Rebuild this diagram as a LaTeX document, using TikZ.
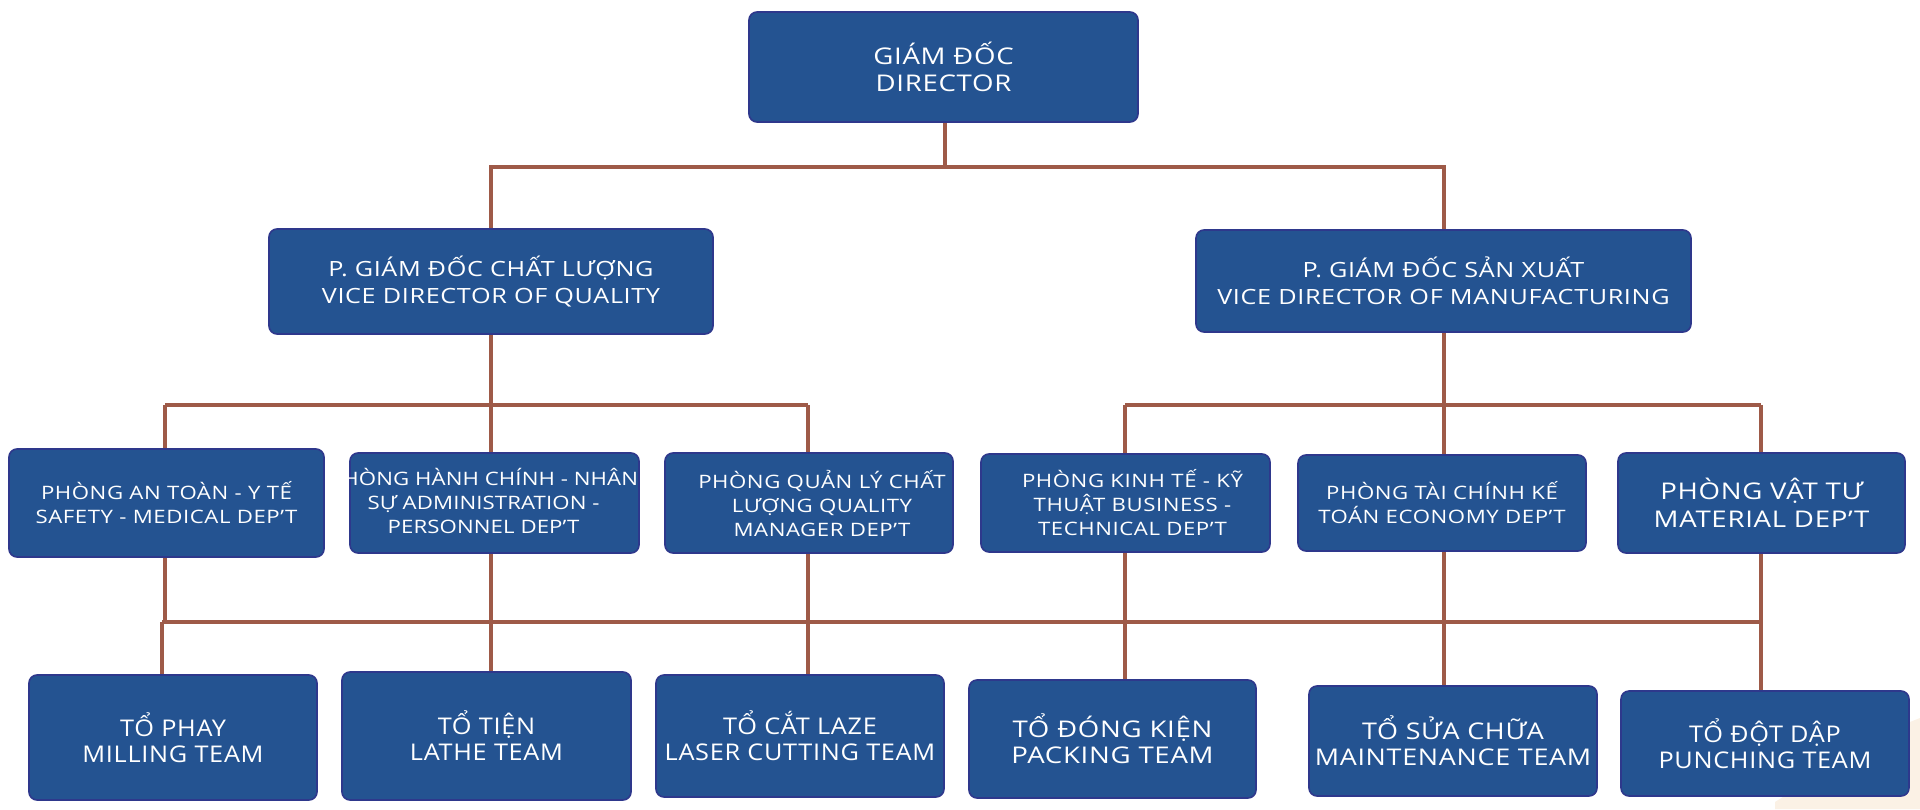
\documentclass[tikz,border=0pt]{standalone}
\usepackage{fontspec}
\setmainfont{Open Sans}[LetterSpace=3,FakeStretch=1.2]
\newfontfamily\teamfont{Open Sans}[LetterSpace=3,FakeStretch=1.1]
\newfontfamily\teamwide{Open Sans}[LetterSpace=3,FakeStretch=1.2]
\newfontfamily\teammid{Open Sans}[LetterSpace=3,FakeStretch=1.17]
\definecolor{boxfill}{RGB}{36,83,145}
\definecolor{boxline}{RGB}{46,56,140}
\definecolor{link}{RGB}{158,90,72}
\definecolor{peach}{RGB}{251,241,229}
\tikzset{
  box/.style={draw=boxline, line width=1.6pt, fill=boxfill, rounded corners=8pt,
    text=white, align=center, inner sep=2pt, font=\fontsize{18.5}{24}\selectfont},
  dirbox/.style={box, font=\fontsize{23}{27}\selectfont},
  bigbox/.style={box, font=\fontsize{21}{27}\selectfont},
  team/.style={box, font=\teamfont\fontsize{23}{26}\selectfont},
  teamw/.style={box, font=\teamwide\fontsize{23}{26}\selectfont},
  teamm/.style={box, font=\teammid\fontsize{23}{26}\selectfont},
  lbl/.style={text=white, align=center, inner sep=0pt, font=\fontsize{18.5}{24}\selectfont},
  conn/.style={draw=link, line width=4pt},
}
\begin{document}
\begin{tikzpicture}[x=1pt,y=-1pt]
\useasboundingbox (0,0) rectangle (1920,809);
\fill[white] (0,0) rectangle (1920,809);
\fill[peach] (1890,730) -- (1920,718) -- (1920,809) -- (1775,809) -- (1775,802) -- cycle;
% level 1
\node[dirbox, minimum width=389pt, minimum height=110pt] (dir) at (943.5,67) {GIÁM ĐỐC\\DIRECTOR};
% level 2
\node[bigbox, minimum width=444pt, minimum height=105pt] (vpq) at (491,281.5) {P. GIÁM ĐỐC CHẤT LƯỢNG\\VICE DIRECTOR OF QUALITY};
\node[bigbox, minimum width=495pt, minimum height=102pt] (vpm) at (1443.5,281) {P. GIÁM ĐỐC SẢN XUẤT\\VICE DIRECTOR OF MANUFACTURING};
% level 3
\node[box, minimum width=315pt, minimum height=108pt] (saf) at (166.5,503) {PHÒNG AN TOÀN - Y TẾ\\SAFETY - MEDICAL DEP'T};
\node[box, minimum width=289pt, minimum height=100pt] (adm) at (494.5,503) {};
\node[lbl, font=\fontsize{18.5}{24}\selectfont\addfontfeature{LetterSpace=0.5}] (admtxt) at ([xshift=-11pt,yshift=2pt]adm.center) {PHÒNG HÀNH CHÍNH - NHÂN\\SỰ ADMINISTRATION -\\PERSONNEL DEP'T};
\node[box, minimum width=288pt, minimum height=100pt] (qm) at (809,503) {\hspace*{26pt}PHÒNG QUẢN LÝ CHẤT\\\hspace*{26pt}LƯỢNG QUALITY\\\hspace*{26pt}MANAGER DEP'T};
\node[box, minimum width=289pt, minimum height=98pt] (bus) at (1125.5,503) {\hspace*{14pt}PHÒNG KINH TẾ - KỸ\\\hspace*{14pt}THUẬT BUSINESS -\\\hspace*{14pt}TECHNICAL DEP'T};
\node[box, minimum width=288pt, minimum height=96pt] (fin) at (1442,503) {PHÒNG TÀI CHÍNH KẾ\\TOÁN ECONOMY DEP'T};
\node[box, minimum width=287pt, minimum height=100pt, font=\fontsize{23}{28}\selectfont] (mat) at (1761.5,503) {PHÒNG VẬT TƯ\\MATERIAL DEP'T};
% level 4
\node[team, minimum width=288pt, minimum height=125pt] (mil) at (173,737.5) {TỔ PHAY\\MILLING TEAM};
\node[team, minimum width=289pt, minimum height=128pt] (lat) at (486.5,736) {TỔ TIỆN\\LATHE TEAM};
\node[team, minimum width=288pt, minimum height=122pt] (las) at (800,736) {TỔ CẮT LAZE\\LASER CUTTING TEAM};
\node[teamw, minimum width=287pt, minimum height=118pt] (pac) at (1112.5,739) {TỔ ĐÓNG KIỆN\\PACKING TEAM};
\node[teamm, minimum width=288pt, minimum height=110pt] (mai) at (1453,741) {TỔ SỬA CHỮA\\MAINTENANCE TEAM};
\node[team, minimum width=288pt, minimum height=105pt] (pun) at (1765,743.5) {TỔ ĐỘT DẬP\\PUNCHING TEAM};
% junction coordinates
\coordinate (t1) at (945,167);
\coordinate (ql) at (165,405);
\coordinate (qr) at (808,405);
\coordinate (ml) at (1125,405);
\coordinate (mr) at (1761,405);
\coordinate (bl) at (162,622);
\coordinate (br) at (1761,622);
% connectors
\draw[conn] (dir.south -| t1) -- (t1);
\draw[conn] (vpq.north) |- (t1) -| (vpm.north);
\draw[conn] (vpq.south) -- (vpq.south |- ql);
\draw[conn] (ql) -- (qr);
\draw[conn] (saf.north -| ql) -- (ql);
\draw[conn] (adm.north -| vpq.south) -- (vpq.south |- ql);
\draw[conn] (qm.north -| qr) -- (qr);
\draw[conn] (vpm.south) -- (vpm.south |- ml);
\draw[conn] (ml) -- (mr);
\draw[conn] (bus.north -| ml) -- (ml);
\draw[conn] (fin.north -| vpm.south) -- (vpm.south |- ml);
\draw[conn] (mat.north -| mr) -- (mr);
\draw[conn] (bl) -- (br);
\draw[conn] (saf.south -| ql) -- (ql |- bl);
\draw[conn] (bl) -- (mil.north -| bl);
\draw[conn] (adm.south -| vpq.south) -- (lat.north -| vpq.south);
\draw[conn] (qm.south -| qr) -- (las.north -| qr);
\draw[conn] (bus.south -| ml) -- (pac.north -| ml);
\draw[conn] (fin.south -| vpm.south) -- (mai.north -| vpm.south);
\draw[conn] (mat.south -| mr) -- (pun.north -| mr);
\end{tikzpicture}
\end{document}
